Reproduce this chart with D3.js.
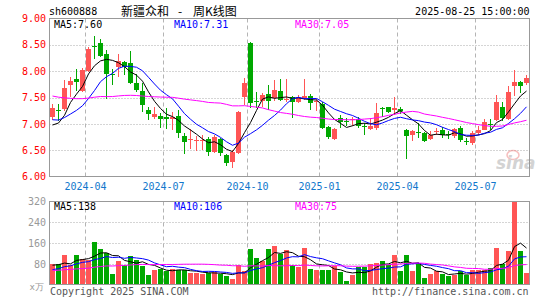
<!DOCTYPE html>
<html lang="zh">
<head>
<meta charset="UTF-8">
<script src="https://cdn.jsdelivr.net/npm/d3@7/dist/d3.min.js"></script>
<style>
  html, body { margin: 0; padding: 0; background: #fff; overflow: hidden }
  svg { display: block }
  text { font-family: "DejaVu Sans Mono", monospace; font-size: 10px }
  .cjk { font-family: "Noto Sans CJK SC", sans-serif; font-size: 12px }
  .grid-h { stroke: #aaa; stroke-dasharray: 1,2 }
  .grid-v { stroke: #b4b4b4; stroke-dasharray: 4,3 }
  .frame { fill: none; stroke: #999 }
  .ma { fill: none; stroke-width: 1 }
</style>
</head>
<body>
<svg id="chart" width="545" height="300"></svg>
<script>
// weekly candles, first week 2024-02-19, last 2025-08-25
const firstWeek = "2024-02-19";
const open  = [7.14,7.26,7.28,7.74,7.86,7.62,8.01,8.48,8.53,8.32,7.95,8.08,8.17,8.15,7.78,7.63,7.26,7.14,7.16,7.13,
               7.10,7.16,6.78,6.70,6.67,6.67,6.71,6.47,6.71,6.41,6.27,6.44,7.52,8.53,7.43,7.44,7.57,7.49,7.63,7.45,
               7.51,7.42,7.49,7.53,7.41,7.38,6.94,6.72,7.11,7.06,7.07,7.09,6.97,6.91,6.93,7.31,7.32,7.26,7.28,6.88,
               6.80,6.84,6.82,6.71,6.85,6.88,6.81,6.77,6.93,6.67,6.64,6.83,6.89,7.00,7.07,7.32,7.09,7.72,7.80,7.77];
const high  = [7.38,7.37,7.83,7.89,8.05,8.06,8.46,8.66,8.61,8.40,8.05,8.33,8.20,8.38,7.95,7.77,7.33,7.32,7.20,7.30,
               7.22,7.27,6.83,6.91,6.77,6.79,6.76,6.80,6.74,6.43,6.51,7.24,7.88,8.55,7.61,7.58,7.74,7.83,7.86,7.86,
               7.53,7.55,7.86,7.57,7.47,7.42,6.96,6.93,7.17,7.11,7.14,7.14,7.01,7.11,7.39,7.32,7.33,7.51,7.32,6.90,
               6.89,7.01,6.84,6.86,6.93,6.94,6.86,6.93,6.97,6.74,6.86,6.97,7.09,7.09,7.55,7.41,7.72,8.03,7.82,7.92];
const low   = [7.08,7.06,7.25,7.52,7.62,7.60,7.99,8.24,8.27,7.48,7.74,7.90,7.93,7.76,7.61,7.22,7.08,7.09,6.93,6.91,
               6.89,6.74,6.43,6.52,6.49,6.50,6.39,6.44,6.40,6.21,6.16,6.43,7.36,7.30,7.30,7.32,7.27,7.43,7.43,7.41,
               7.11,7.39,7.46,7.26,7.24,6.90,6.72,6.69,6.93,6.96,6.97,6.93,6.80,6.89,6.89,7.14,7.21,7.17,7.19,6.34,
               6.68,6.74,6.66,6.69,6.80,6.74,6.72,6.74,6.66,6.61,6.61,6.80,6.88,6.88,7.05,7.05,7.08,7.53,7.58,7.74];
const close = [7.30,7.24,7.68,7.82,7.79,8.03,8.42,8.46,8.28,7.94,7.93,8.20,8.08,7.78,7.64,7.36,7.18,7.19,7.10,7.09,
               7.14,6.82,6.66,6.72,6.69,6.69,6.46,6.75,6.44,6.26,6.47,7.23,7.78,7.39,7.41,7.55,7.44,7.64,7.46,7.47,
               7.42,7.49,7.53,7.40,7.43,6.93,6.76,6.91,7.03,7.04,7.09,6.96,6.95,6.96,7.21,7.29,7.22,7.30,7.25,6.77,
               6.86,6.82,6.68,6.80,6.87,6.80,6.79,6.91,6.69,6.65,6.82,6.89,7.03,6.98,7.41,7.11,7.61,7.80,7.72,7.88];
// volume, 万手
const volume = [80,78,116,77,116,97,95,163,138,122,43,90,74,112,94,71,39,56,61,52,
                60,56,55,45,45,40,45,50,41,35,23,77,53,137,103,92,137,150,120,135,
                74,69,140,62,55,57,55,73,47,13,38,67,67,80,85,92,76,114,54,114,
                54,85,26,41,54,41,33,37,54,37,56,56,56,63,140,80,131,318,130,46];
// the 29 weeks before the window, estimated from where the MA lines start
const priorClose  = [7.90,8.05,8.10,8.00,8.01,8.10,7.95,7.90,7.98,7.90,7.85,7.80,7.70,7.76,7.65,
                     7.45,7.35,7.25,7.20,7.20,7.30,7.20,7.15,7.10,7.15,7.05,6.95,6.60,7.00];
const priorVolume = [60,55,48,52,58,50,47,62,55,50,48,53,57,51,49,56,60,52,50,57,
                     42,38,45,40,40,68,85,92,50];

const priceTicks = [6.00, 6.50, 7.00, 7.50, 8.00, 8.50, 9.00];
const volTicks = [80, 160, 240, 320];
const tickLabels = ["2024-04", "2024-07", "2024-10", "2025-01", "2025-04", "2025-07"];
const tickWeeks = ["2024-04-01", "2024-07-01", "2024-10-07", "2024-12-30", "2025-03-31", "2025-06-30"];
const maLabels = ["MA5:7.60", "MA10:7.31", "MA30:7.05"];
const volMaLabels = ["MA5:138", "MA10:106", "MA30:75"];
const maColors = ["#000", "#0000ff", "#ff00ff"];
const maPeriods = [5, 10, 30];

const fmt = d3.timeFormat("%Y-%m-%d");
const start = d3.timeParse("%Y-%m-%d")(firstWeek);
const weeks = close.map((_, i) => fmt(d3.timeMonday.offset(start, i)));

const svg = d3.select("#chart");
const left = 49.5, right = 529.5;

const x = d3.scaleBand().domain(weeks).range([left, right])
  .paddingInner(1 / 6).paddingOuter(1 / 12);
const bw = x.bandwidth();
const cx = w => x(w) + bw / 2;
const y = d3.scaleLinear().domain([6, 9]).range([176.7, 18.5]);
const yv = d3.scaleLinear().domain([0, 320]).range([284.7, 201.5]);

function movingAvg(series, prior, n) {
  const all = prior.concat(series);
  return series.map((_, i) => d3.mean(all.slice(i + prior.length - n + 1, i + prior.length + 1)));
}

const crisp = v => Math.round(v) + 0.5;

// ---------- grids ----------
svg.append("g").selectAll("line").data(priceTicks.slice(1, -1)).join("line")
  .attr("class", "grid-h")
  .attr("x1", left).attr("x2", right)
  .attr("y1", d => crisp(y(d))).attr("y2", d => crisp(y(d)));
svg.append("g").selectAll("line").data(volTicks.slice(0, -1)).join("line")
  .attr("class", "grid-h")
  .attr("x1", left).attr("x2", right)
  .attr("y1", d => crisp(yv(d))).attr("y2", d => crisp(yv(d)));

const gx = d => x(d) - x.step() * x.paddingInner() / 2;
[[18.5, 176.7], [201.5, 284.7]].forEach(([y1, y2]) => {
  svg.append("g").selectAll("line").data(tickWeeks).join("line")
    .attr("class", "grid-v")
    .attr("x1", gx).attr("x2", gx)
    .attr("y1", y1).attr("y2", y2);
});

// ---------- sina watermark ----------
const logo = svg.append("g").attr("opacity", 0.55);
logo.append("ellipse").attr("cx", 513).attr("cy", 155).attr("rx", 6).attr("ry", 4.5)
  .attr("fill", "none").attr("stroke", "#f08a8a").attr("stroke-width", 1.5);
logo.append("text").attr("x", 496).attr("y", 169)
  .style("font-family", "DejaVu Sans").style("font-size", "17px")
  .style("font-weight", "bold").style("font-style", "italic")
  .attr("fill", "#b0b0b0").text("sina");

// ---------- candles ----------
const candles = weeks.map((w, i) => ({ w, o: open[i], h: high[i], l: low[i], c: close[i], v: volume[i] }));
const upColor = "#ff5555", downColor = "#00a800";
const col = d => d.c >= d.o ? upColor : downColor;

const cg = svg.append("g");
cg.selectAll("line").data(candles).join("line")
  .attr("x1", d => cx(d.w)).attr("x2", d => cx(d.w))
  .attr("y1", d => Math.round(y(d.h))).attr("y2", d => Math.round(y(d.l)))
  .attr("stroke", col);
cg.selectAll("rect").data(candles).join("rect")
  .attr("x", d => x(d.w)).attr("width", bw)
  .attr("y", d => Math.round(y(Math.max(d.o, d.c))))
  .attr("height", d => Math.max(1, Math.round(y(Math.min(d.o, d.c))) - Math.round(y(Math.max(d.o, d.c)))))
  .attr("fill", col);

// ---------- volume bars ----------
svg.append("g").selectAll("rect").data(candles).join("rect")
  .attr("x", d => x(d.w)).attr("width", bw)
  .attr("y", d => Math.round(yv(d.v)))
  .attr("height", d => yv(0) - Math.round(yv(d.v)))
  .attr("fill", col);

// ---------- moving averages ----------
maPeriods.forEach((n, k) => {
  const pm = movingAvg(close, priorClose, n);
  svg.append("path").attr("class", "ma").attr("stroke", maColors[k])
    .attr("d", d3.line().x((d, i) => cx(weeks[i])).y(d => y(d))(pm));
  const vm = movingAvg(volume, priorVolume, n);
  svg.append("path").attr("class", "ma").attr("stroke", maColors[k])
    .attr("d", d3.line().x((d, i) => cx(weeks[i])).y(d => yv(d))(vm));
});

// ---------- frames ----------
svg.append("rect").attr("class", "frame").attr("x", left).attr("y", 18.5)
  .attr("width", right - left).attr("height", 176.5 - 18.5);
svg.append("rect").attr("class", "frame").attr("x", left).attr("y", 201.5)
  .attr("width", right - left).attr("height", 284.5 - 201.5);

// ---------- axis labels ----------
svg.append("g").selectAll("text").data(priceTicks).join("text")
  .attr("x", 46).attr("y", d => y(d)).attr("dy", "0.36em")
  .attr("text-anchor", "end").attr("fill", "#f00")
  .text(d3.format(".2f"));
svg.append("g").selectAll("text").data(volTicks).join("text")
  .attr("x", 46).attr("y", d => yv(d)).attr("dy", "0.36em")
  .attr("text-anchor", "end").attr("fill", "#999")
  .text(d => d);
svg.append("text").attr("x", 44).attr("y", 289.5).attr("text-anchor", "end")
  .attr("fill", "#999").style("font-size", "9px").text("x万");

svg.append("g").selectAll("text").data(tickWeeks).join("text")
  .attr("x", gx).attr("y", 190).attr("text-anchor", "middle").attr("fill", "#1177cc")
  .text((d, i) => tickLabels[i]);

// ---------- legends / header ----------
const legendX = [54, 174, 295];
maLabels.forEach((t, k) => svg.append("text").attr("x", legendX[k]).attr("y", 27.5)
  .attr("fill", maColors[k]).text(t));
volMaLabels.forEach((t, k) => svg.append("text").attr("x", legendX[k]).attr("y", 210)
  .attr("fill", maColors[k]).text(t));

svg.append("text").attr("x", 49).attr("y", 14.7).attr("fill", "#000").text("sh600888");
svg.append("text").attr("class", "cjk").attr("x", 121).attr("y", 15.5).attr("fill", "#000").text("新疆众和");
svg.append("text").attr("class", "cjk").attr("x", 180).attr("y", 15.5).attr("text-anchor", "middle").attr("fill", "#000").text("-");
svg.append("text").attr("class", "cjk").attr("x", 193).attr("y", 15.5).attr("fill", "#000").text("周K线图");
svg.append("text").attr("x", 529.5).attr("y", 14.7).attr("text-anchor", "end").attr("fill", "#000")
  .text("2025-08-25 15:00:00");

svg.append("text").attr("x", 50).attr("y", 295).attr("fill", "#555").text("Copyright 2025 SINA.COM");
svg.append("text").attr("x", 528.5).attr("y", 295).attr("text-anchor", "end").attr("fill", "#555")
  .text("http://finance.sina.com.cn");
</script>
</body>
</html>
